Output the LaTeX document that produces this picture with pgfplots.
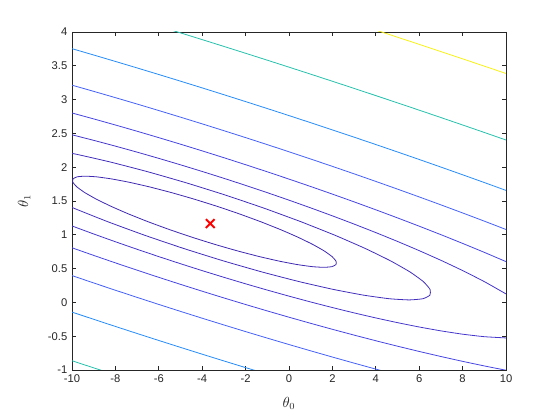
\documentclass[border=0pt]{standalone}
\usepackage{fontspec}
\setmainfont{Liberation Sans}
\usepackage{pgfplots}
\pgfplotsset{compat=1.18}
\definecolor{axc}{rgb}{0.15,0.15,0.15}
\definecolor{cA}{rgb}{0.25,0.16,0.70}
\definecolor{cB}{rgb}{0.26,0.18,0.74}
\definecolor{cC}{rgb}{0.27,0.21,0.80}
\definecolor{cD}{rgb}{0.28,0.27,0.89}
\definecolor{cE}{rgb}{0.27,0.38,0.98}
\definecolor{cF}{rgb}{0.15,0.55,0.98}
\definecolor{cG}{rgb}{0.15,0.76,0.68}
\definecolor{cH}{rgb}{0.97,0.95,0.08}
\begin{document}
\begin{tikzpicture}
\useasboundingbox (0,0) rectangle (420pt,315pt);
\begin{axis}[
  at={(54pt,37.5pt)}, anchor=south west,
  width=325.5pt, height=253.5pt, scale only axis,
  xmin=-10, xmax=10, ymin=-1, ymax=4,
  xtick={-10,-8,-6,-4,-2,0,2,4,6,8,10},
  ytick={-1,-0.5,0,0.5,1,1.5,2,2.5,3,3.5,4},
  tick align=inside, major tick length=3.3pt,
  axis line style={axc, line width=0.5pt},
  tick style={axc, line width=0.5pt},
  every tick label/.append style={font=\fontsize{8.4}{10}\selectfont, text=axc},
  /pgf/number format/assume math mode=true,
  xlabel={$\theta_0$}, ylabel={$\theta_1$},
  xlabel style={at={(axis description cs:0.5,-0.098)}, anchor=center, font=\fontsize{10.5}{12}\selectfont, text=axc},
  ylabel style={at={(axis description cs:-0.11,0.5)}, anchor=center, font=\fontsize{10.5}{12}\selectfont, text=axc},
  cont/.style={line width=0.6pt, no marks, smooth, tension=0.3},
]
% level 7.85
\addplot[cA, cont] coordinates {(-1.2994,1.193) (-2.2945,1.3101) (-3.3382,1.4237) (-4.3989,1.5302) (-5.4442,1.6265) (-6.4426,1.7097) (-7.3636,1.7771) (-8.1792,1.8268) (-8.8646,1.8572) (-9.3991,1.8674) (-9.7664,1.8572) (-9.9552,1.8268) (-9.9600,1.7771) (-9.7804,1.7097) (-9.4222,1.6265) (-8.8961,1.5302) (-8.2178,1.4237) (-7.4083,1.3101) (-6.4922,1.193) (-5.4971,1.0759) (-4.4534,0.9623) (-3.3927,0.8558) (-2.3474,0.7595) (-1.3490,0.6764) (-0.4280,0.6089) (0.3876,0.5592) (1.0730,0.5288) (1.6075,0.5186) (1.9748,0.5288) (2.1636,0.5592) (2.1684,0.6089) (1.9888,0.6764) (1.6306,0.7595) (1.1045,0.8558) (0.4262,0.9623) (-0.3833,1.0759) (-1.2994,1.193)};
% level 14.4
\addplot[cB, cont] coordinates {(0.5555,1.193) (-1.1505,1.3938) (-2.9399,1.5885) (-4.7584,1.7711) (-6.5506,1.9363) (-8.2621,2.0788) (-9.8410,2.1944) (-11.2394,2.2796) (-12.4145,2.3317) (-13.3308,2.3493) (-13.9605,2.3317) (-14.2842,2.2796) (-14.2924,2.1944) (-13.9847,2.0788) (-13.3704,1.9363) (-12.4682,1.7711) (-11.3057,1.5885) (-9.9179,1.3938) (-8.3471,1.193) (-6.6411,0.9922) (-4.8517,0.7975) (-3.0332,0.6149) (-1.2410,0.4498) (0.4705,0.3072) (2.0494,0.1916) (3.4478,0.1065) (4.6229,0.0543) (5.5392,0.0367) (6.1689,0.0543) (6.4926,0.1065) (6.5008,0.1916) (6.1931,0.3072) (5.5788,0.4498) (4.6766,0.6149) (3.5141,0.7975) (2.1263,0.9922) (0.5555,1.193)};
% level 26.4
\addplot[cC, cont] coordinates {(-10,2.4792) (-9,2.3972) (-8,2.3116) (-7,2.2227) (-6,2.1305) (-5,2.0352) (-4,1.9368) (-3,1.8354) (-2,1.7308) (-1,1.6232) (0,1.5123) (1,1.3981) (2,1.2802) (3,1.1586) (4,1.0326) (5,0.9019) (6,0.7656) (7,0.6226) (8,0.4710) (9,0.3076) (10,0.1256)};
\addplot[cC, cont] coordinates {(-10,1.1308) (-9,1.0122) (-8,0.8972) (-7,0.7857) (-6,0.6773) (-5,0.5722) (-4,0.4701) (-3,0.3711) (-2,0.2750) (-1,0.1822) (0,0.0925) (1,0.0063) (2,-0.0764) (3,-0.1552) (4,-0.2298) (5,-0.2995) (6,-0.3638) (7,-0.4212) (8,-0.4702) (9,-0.5072) (10,-0.5258)};
% level 48.3
\addplot[cD, cont] coordinates {(-10,2.8021) (-9,2.7143) (-8,2.6241) (-7,2.5318) (-6,2.4371) (-5,2.3404) (-4,2.2414) (-3,2.1403) (-2,2.0370) (-1,1.9316) (0,1.8239) (1,1.7141) (2,1.6018) (3,1.4872) (4,1.3699) (5,1.2501) (6,1.1274) (7,1.0018) (8,0.8728) (9,0.7402) (10,0.6035)};
\addplot[cD, cont] coordinates {(-10,0.8079) (-9,0.6952) (-8,0.5847) (-7,0.4766) (-6,0.3707) (-5,0.2670) (-4,0.1655) (-3,0.0661) (-2,-0.0312) (-1,-0.1262) (0,-0.2191) (1,-0.3097) (2,-0.3980) (3,-0.4838) (4,-0.5671) (5,-0.6477) (6,-0.7256) (7,-0.8004) (8,-0.8720) (9,-0.9398) (10,-1.0036)};
% level 88.6
\addplot[cE, cont] coordinates {(-10,3.2133) (-9,3.1219) (-8,3.0288) (-7,2.9343) (-6,2.8380) (-5,2.7403) (-4,2.6410) (-3,2.5401) (-2,2.4377) (-1,2.3337) (0,2.2281) (1,2.1210) (2,2.0122) (3,1.9018) (4,1.7896) (5,1.6758) (6,1.5602) (7,1.4428) (8,1.3233) (9,1.2020) (10,1.0785)};
\addplot[cE, cont] coordinates {(-10,0.3967) (-9,0.2875) (-8,0.1800) (-7,0.0742) (-6,-0.0302) (-5,-0.1329) (-4,-0.2341) (-3,-0.3337) (-2,-0.4319) (-1,-0.5283) (0,-0.6233) (1,-0.7166) (2,-0.8084) (3,-0.8984) (4,-0.9868) (5,-1.0734)};
% level 162.4
\addplot[cF, cont] coordinates {(-10,3.7534) (-9,3.6595) (-8,3.5645) (-7,3.4684) (-6,3.3711) (-5,3.2727) (-4,3.1731) (-3,3.0724) (-2,2.9705) (-1,2.8676) (0,2.7634) (1,2.6582) (2,2.5517) (3,2.4442) (4,2.3354) (5,2.2254) (6,2.1142) (7,2.0018) (8,1.8880) (9,1.7731) (10,1.6567)};
\addplot[cF, cont] coordinates {(-10,-0.1434) (-9,-0.2501) (-8,-0.3557) (-7,-0.4600) (-6,-0.5633) (-5,-0.6653) (-4,-0.7662) (-3,-0.8660) (-2,-0.9647) (-1,-1.0622)};
% level 297.6
\addplot[cG, cont] coordinates {(-6,4.0859) (-5,3.9870) (-4,3.8873) (-3,3.7867) (-2,3.6853) (-1,3.5831) (0,3.4799) (1,3.3761) (2,3.2712) (3,3.1657) (4,3.0592) (5,2.9519) (6,2.8436) (7,2.7346) (8,2.6246) (9,2.5139) (10,2.4021)};
\addplot[cG, cont] coordinates {(-10,-0.8633) (-9,-0.9683) (-8,-1.0724)};
% level 545.6
\addplot[cH, cont] coordinates {(4,4.0284) (5,3.9231) (6,3.8170) (7,3.7103) (8,3.6030) (9,3.4950) (10,3.3866)};
% minimum found
\addplot[red, only marks, mark=x, mark size=3.9pt, mark options={solid, line width=1.5pt, line cap=rect}] coordinates {(-3.6303,1.1664)};
\end{axis}
\end{tikzpicture}
\end{document}
